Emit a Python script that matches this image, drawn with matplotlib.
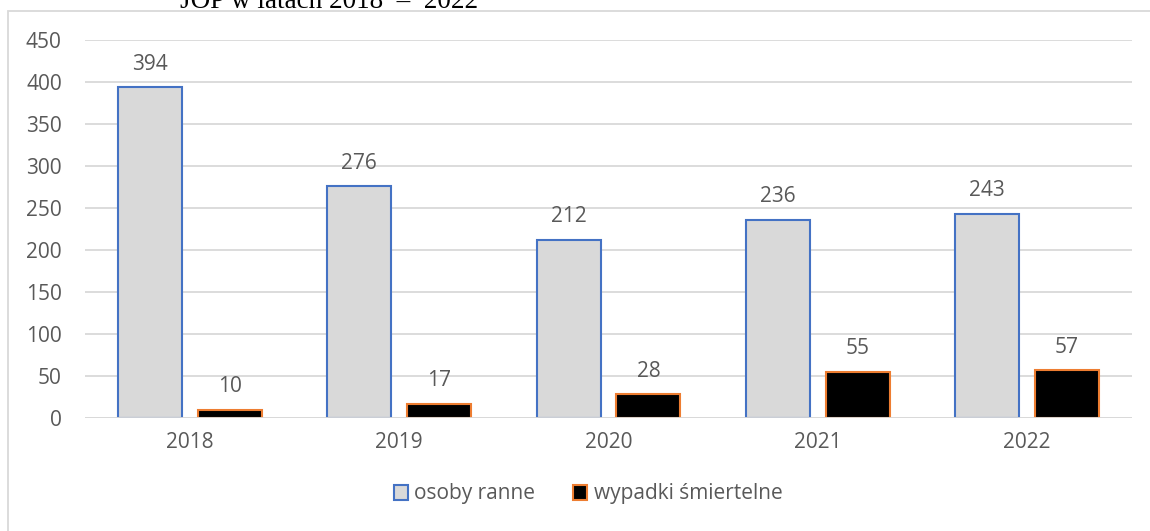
import matplotlib
matplotlib.use("Agg")
import matplotlib.pyplot as plt
import numpy as np
from matplotlib.patches import Rectangle

years = ["2018", "2019", "2020", "2021", "2022"]
osoby_ranne = [394, 276, 212, 236, 243]
wypadki_smiertelne = [10, 17, 28, 55, 57]
yticks = [0, 50, 100, 150, 200, 250, 300, 350, 400, 450]

plt.rcParams['font.family'] = ['Open Sans', 'DejaVu Sans']
W, H = 1150, 531
fig = plt.figure(figsize=(W / 100, H / 100), dpi=100)

# chart border
fig.patches.append(Rectangle((8 / W, -0.01), 1.2, 1 - 11 / H + 0.01, transform=fig.transFigure,
                             fill=False, edgecolor="#D9D9D9", linewidth=1.3))

# clipped title above chart
fig.text(180 / W, 1 - 8 / H, "JOP w latach 2018  –  2022", family="Liberation Serif",
         fontsize=19.5, va="baseline", ha="left", color="black")

left, right = 85.4 / W, 1131.6 / W
bottom, top = 1 - 418 / H, 1 - 40 / H
ax = fig.add_axes([left, bottom, right - left, top - bottom])

x = np.arange(len(years))
bw = 0.306
off = 0.191
gray = "#D9D9D9"
txt = "#595959"
fs = 15
b1 = ax.bar(x - off, osoby_ranne, bw, color=gray, edgecolor="#4472C4", linewidth=1.5,
            label="osoby ranne", zorder=3)
b2 = ax.bar(x + off, wypadki_smiertelne, bw, color="black", edgecolor="#ED7D31", linewidth=1.5,
            label="wypadki śmiertelne", zorder=3)
for bars in (b1, b2):
    ax.bar_label(bars, padding=9, fontsize=fs, color=txt)

ax.set_xlim(-0.5, len(years) - 0.5)
ax.set_ylim(0, 450)
ax.set_yticks(yticks)
ax.set_xticks(x)
ax.set_xticklabels(years)
ax.tick_params(axis="both", length=0, labelsize=fs, labelcolor=txt)
ax.tick_params(axis="y", pad=17)
ax.tick_params(axis="x", pad=10)
ax.grid(axis="y", color="#D9D9D9", linewidth=1.3, zorder=0)
for s in ax.spines.values():
    s.set_visible(False)
ax.axhline(0, color="#D9D9D9", linewidth=1.3, zorder=4)

leg = fig.legend(handles=[b1, b2], loc="center", bbox_to_anchor=(588 / W, 1 - 494 / H), ncol=2,
                 frameon=False, fontsize=fs, handlelength=0.7, handleheight=0.7,
                 handletextpad=0.3, columnspacing=1.8)
for t in leg.get_texts():
    t.set_color(txt)

fig.savefig("out.png", dpi=100)
